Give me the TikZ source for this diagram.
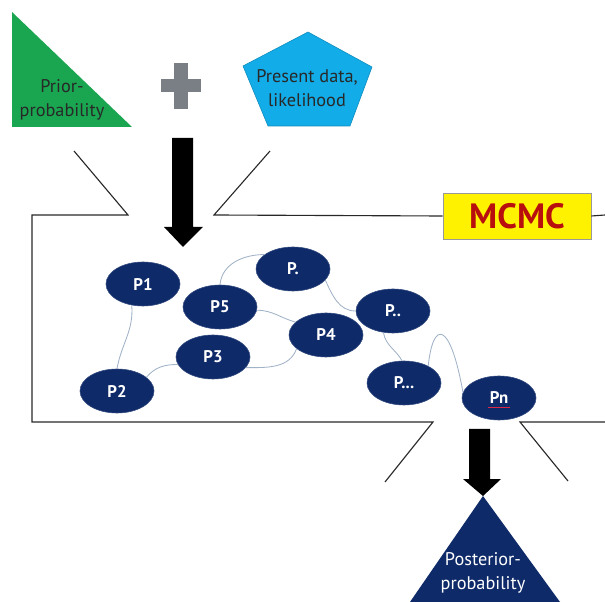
\documentclass[tikz,border=0pt]{standalone}
\usepackage{fontspec}
\setmainfont{PT Sans}
\usepackage{xcolor}
\usepackage{tikz}
\usetikzlibrary{shapes.geometric, positioning}

\definecolor{priorgreen}{RGB}{26,166,80}
\definecolor{datablue}{RGB}{18,172,232}
\definecolor{navy}{RGB}{14,42,104}
\definecolor{plusgray}{RGB}{122,127,134}
\definecolor{linkgray}{RGB}{160,178,198}
\definecolor{framegray}{RGB}{40,40,40}
\definecolor{mcmcred}{RGB}{185,14,14}
\definecolor{textgray}{RGB}{40,40,40}
\definecolor{spellred}{RGB}{220,40,70}

\begin{document}
\begin{tikzpicture}[x=0.025cm, y=-0.025cm,
	state/.style={ellipse, fill=navy, draw=navy!85, minimum width=1.85cm, minimum height=1.1cm,
		inner sep=0pt, text=white, font=\fontsize{12}{12}\selectfont\bfseries},
	link/.style={draw=linkgray, line width=0.6pt},
	frame/.style={draw=framegray, line width=0.8pt},
	tag/.style={align=center, font=\fontsize{13}{17}\selectfont}]

	\useasboundingbox (0,0) rectangle (605,602);

	\fill[priorgreen] (12,12) -- (12,127) -- (132,127) -- cycle;
	\node[tag, text=textgray] (prior) at (62,100) {Prior-\\probability};

	\fill[plusgray] (161,79) rectangle (201,92);
	\fill[plusgray] (174,63) rectangle (188,109);

	\filldraw[fill=datablue, draw=datablue!80!black, line width=0.4pt]
		(308,32) -- (372,67) -- (350,126) -- (268,126) -- (243,66) -- cycle;
	\node[tag, text=textgray] (data) at (307,88) {Present data,\\likelihood};

	\fill[black] (172,138) -- (193,138) -- (193,227) -- (203,227) -- (183,247)
		-- (164,227) -- (172,227) -- cycle;

	\node[draw=gray!80, fill=yellow, minimum width=3.7cm, minimum height=1.15cm,
		text=mcmcred, font=\fontsize{25}{25}\selectfont\bfseries] (mcmc) at (517,216) {MCMC};

	\draw[frame] (74,151) -- (128,215) -- (32,215) -- (32,422) -- (433,422) -- (385,482);
	\draw[frame] (270,151) -- (214,215) -- (mcmc.west);
	\draw[frame] (mcmc.east) -- (605,215);
	\draw[frame] (605,422) -- (520,422) -- (568,481);

	\node[state] (p1) at (143,284) {P1};
	\node[state] (p5) at (220,307) {P5};
	\node[state] (pdot) at (293,269) {P.};
	\node[state] (p4) at (326,335) {P4};
	\node[state] (p3) at (213,357) {P3};
	\node[state] (p2) at (117,391) {P2};
	\node[state] (pdd) at (393,311) {P..};
	\node[state] (pddd) at (404,383) {P...};
	\node[state] (pn) at (499,398) {Pn};
	\draw[spellred, line width=0.7pt] ([xshift=-8pt, yshift=-6.5pt]pn.center) -- ++(16pt,0);

	\draw[link] (p1.242) to[out=-85, in=80] (p2.north);
	\draw[link] (p2.25) to[out=50, in=180] (p3.192);
	\draw[link] (p3.-18) to[out=0, in=250] (p4.205);
	\draw[link] (p5.-5) to[out=0, in=165] (p4.157);
	\draw[link] (p5.north) to[out=85, in=180] (pdot.153);
	\draw[link] (pdot.-19) to[out=-65, in=180] (pdd.west);
	\draw[link] (pdd.246) to[out=-80, in=120] (pddd.95);
	\draw[link] (pddd.35) .. controls (433,320) and (450,320) .. (pn.171);

	\fill[black] (469,429) -- (490,429) -- (490,479) -- (501,479) -- (483,496)
		-- (463,479) -- (469,479) -- cycle;

	\fill[navy] (483,496) -- (410,602) -- (560,602) -- cycle;
	\node[tag, text=white] (posterior) at (483,573) {Posterior-\\probability};
\end{tikzpicture}
\end{document}
